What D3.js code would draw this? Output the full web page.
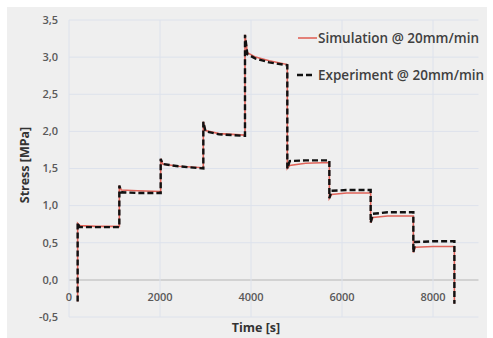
<!DOCTYPE html>
<html><head><meta charset="utf-8">
<script src="https://cdn.jsdelivr.net/npm/d3@7/dist/d3.min.js"></script>
<style>body{margin:0;background:#fff}svg{display:block}</style>
</head><body>
<svg id="c" width="493" height="338"></svg>
<script>
const xTicks = [0, 2000, 4000, 6000, 8000];
const yTicks = [-0.5, 0, 0.5, 1, 1.5, 2, 2.5, 3, 3.5];
const yTickLabels = ["-0,5","0,0","0,5","1,0","1,5","2,0","2,5","3,0","3,5"];
const seriesNames = ["Simulation @ 20mm/min", "Experiment @ 20mm/min"];

const simTime = [190,190,240,600,1106,1106,1150,1500,2015,2015,2060,2400,2952,2952,3000,3300,3868,3868,3920,4100,4400,4798,4798,4850,5200,5722,5722,5770,6100,6630,6630,6680,7000,7568,7568,7610,8000,8470,8470];
const simStress = [-0.29,0.76,0.73,0.72,0.72,1.27,1.21,1.20,1.19,1.63,1.56,1.53,1.51,2.13,2.01,1.97,1.95,3.30,3.06,3.00,2.95,2.90,1.50,1.54,1.57,1.58,1.10,1.15,1.17,1.17,0.77,0.84,0.86,0.86,0.37,0.44,0.45,0.45,-0.32];

const expTime = [190,190,230,1106,1106,1150,1500,2015,2015,2060,2400,2952,2952,3000,3300,3868,3868,3920,4100,4400,4798,4798,4850,5200,5722,5722,5770,6100,6630,6630,6680,7000,7568,7568,7610,8000,8470,8470];
const expStress = [-0.29,0.77,0.71,0.71,1.27,1.18,1.17,1.17,1.63,1.56,1.53,1.50,2.13,2.00,1.96,1.94,3.30,3.04,2.98,2.93,2.89,1.50,1.60,1.61,1.61,1.10,1.20,1.21,1.21,0.77,0.89,0.91,0.91,0.37,0.51,0.52,0.52,-0.32];

const svg = d3.select("#c");
svg.append("rect").attr("x",7).attr("y",7).attr("width",480).attr("height",331).attr("fill","#efefef");

const x = d3.scaleLinear().domain([0, 9000]).range([69, 478.5]);
const y = d3.scaleLinear().domain([-0.5, 3.5]).range([317, 20]);
const font = "'Open Sans', 'Noto Sans', sans-serif";

// grid
svg.append("g").selectAll("line").data(yTicks).join("line")
  .attr("x1", x(0)).attr("x2", x(9000))
  .attr("y1", d=>y(d)).attr("y2", d=>y(d))
  .attr("stroke", d=> d===0 ? "#c9c9c9" : "#dde2ec").attr("stroke-width", d=> d===0?1.5:1);
svg.append("g").selectAll("line").data(xTicks).join("line")
  .attr("x1", d=>x(d)).attr("x2", d=>x(d))
  .attr("y1", y(3.5)).attr("y2", y(-0.5))
  .attr("stroke", "#dde2ec").attr("stroke-width", 1);

// y tick labels
svg.append("g").selectAll("text").data(yTicks).join("text")
  .attr("x", 58).attr("y", d=>y(d)).attr("dy","0.35em")
  .attr("text-anchor","end").attr("font-family",font).attr("font-weight",600)
  .attr("font-size",11).attr("fill","#595959").text((d,i)=>yTickLabels[i]);
// x tick labels
svg.append("g").selectAll("text").data(xTicks).join("text")
  .attr("x", d=>x(d)).attr("y", 297).attr("dy","0.35em")
  .attr("text-anchor","middle").attr("font-family",font).attr("font-weight",600)
  .attr("font-size",11).attr("fill","#595959").text(d=>String(d));

// axis titles
svg.append("text").attr("x",256).attr("y",332).attr("text-anchor","middle")
  .attr("font-family",font).attr("font-weight",700).attr("font-size",12.5).attr("fill","#333").text("Time [s]");
svg.append("text").attr("transform","translate(29,165) rotate(-90)").attr("text-anchor","middle")
  .attr("font-family",font).attr("font-weight",700).attr("font-size",12.5).attr("fill","#333").text("Stress [MPa]");

const line = d3.line().x(d=>x(d[0])).y(d=>y(d[1]));
const simData = simTime.map((t,i)=>[t, simStress[i]]);
const expData = expTime.map((t,i)=>[t, expStress[i]]);

svg.append("path").datum(simData).attr("d", line).attr("fill","none")
  .attr("stroke","#e0645a").attr("stroke-width",1.6);
svg.append("path").datum(expData).attr("d", line).attr("fill","none")
  .attr("stroke","#111").attr("stroke-width",2.4).attr("stroke-dasharray","6,3");

// legend
const leg = svg.append("g");
leg.append("line").attr("x1",298).attr("x2",317).attr("y1",38).attr("y2",38)
  .attr("stroke","#e0645a").attr("stroke-width",1.6);
leg.append("line").attr("x1",297).attr("x2",312).attr("y1",75).attr("y2",75)
  .attr("stroke","#111").attr("stroke-width",2.4).attr("stroke-dasharray","6,3");
leg.selectAll("text").data(seriesNames).join("text")
  .attr("x",318).attr("y",(d,i)=> i===0?38:75).attr("dy","0.35em")
  .attr("font-family",font).attr("font-weight",600).attr("font-size",13.5).attr("fill","#404040")
  .text(d=>d);
</script>
</body></html>
